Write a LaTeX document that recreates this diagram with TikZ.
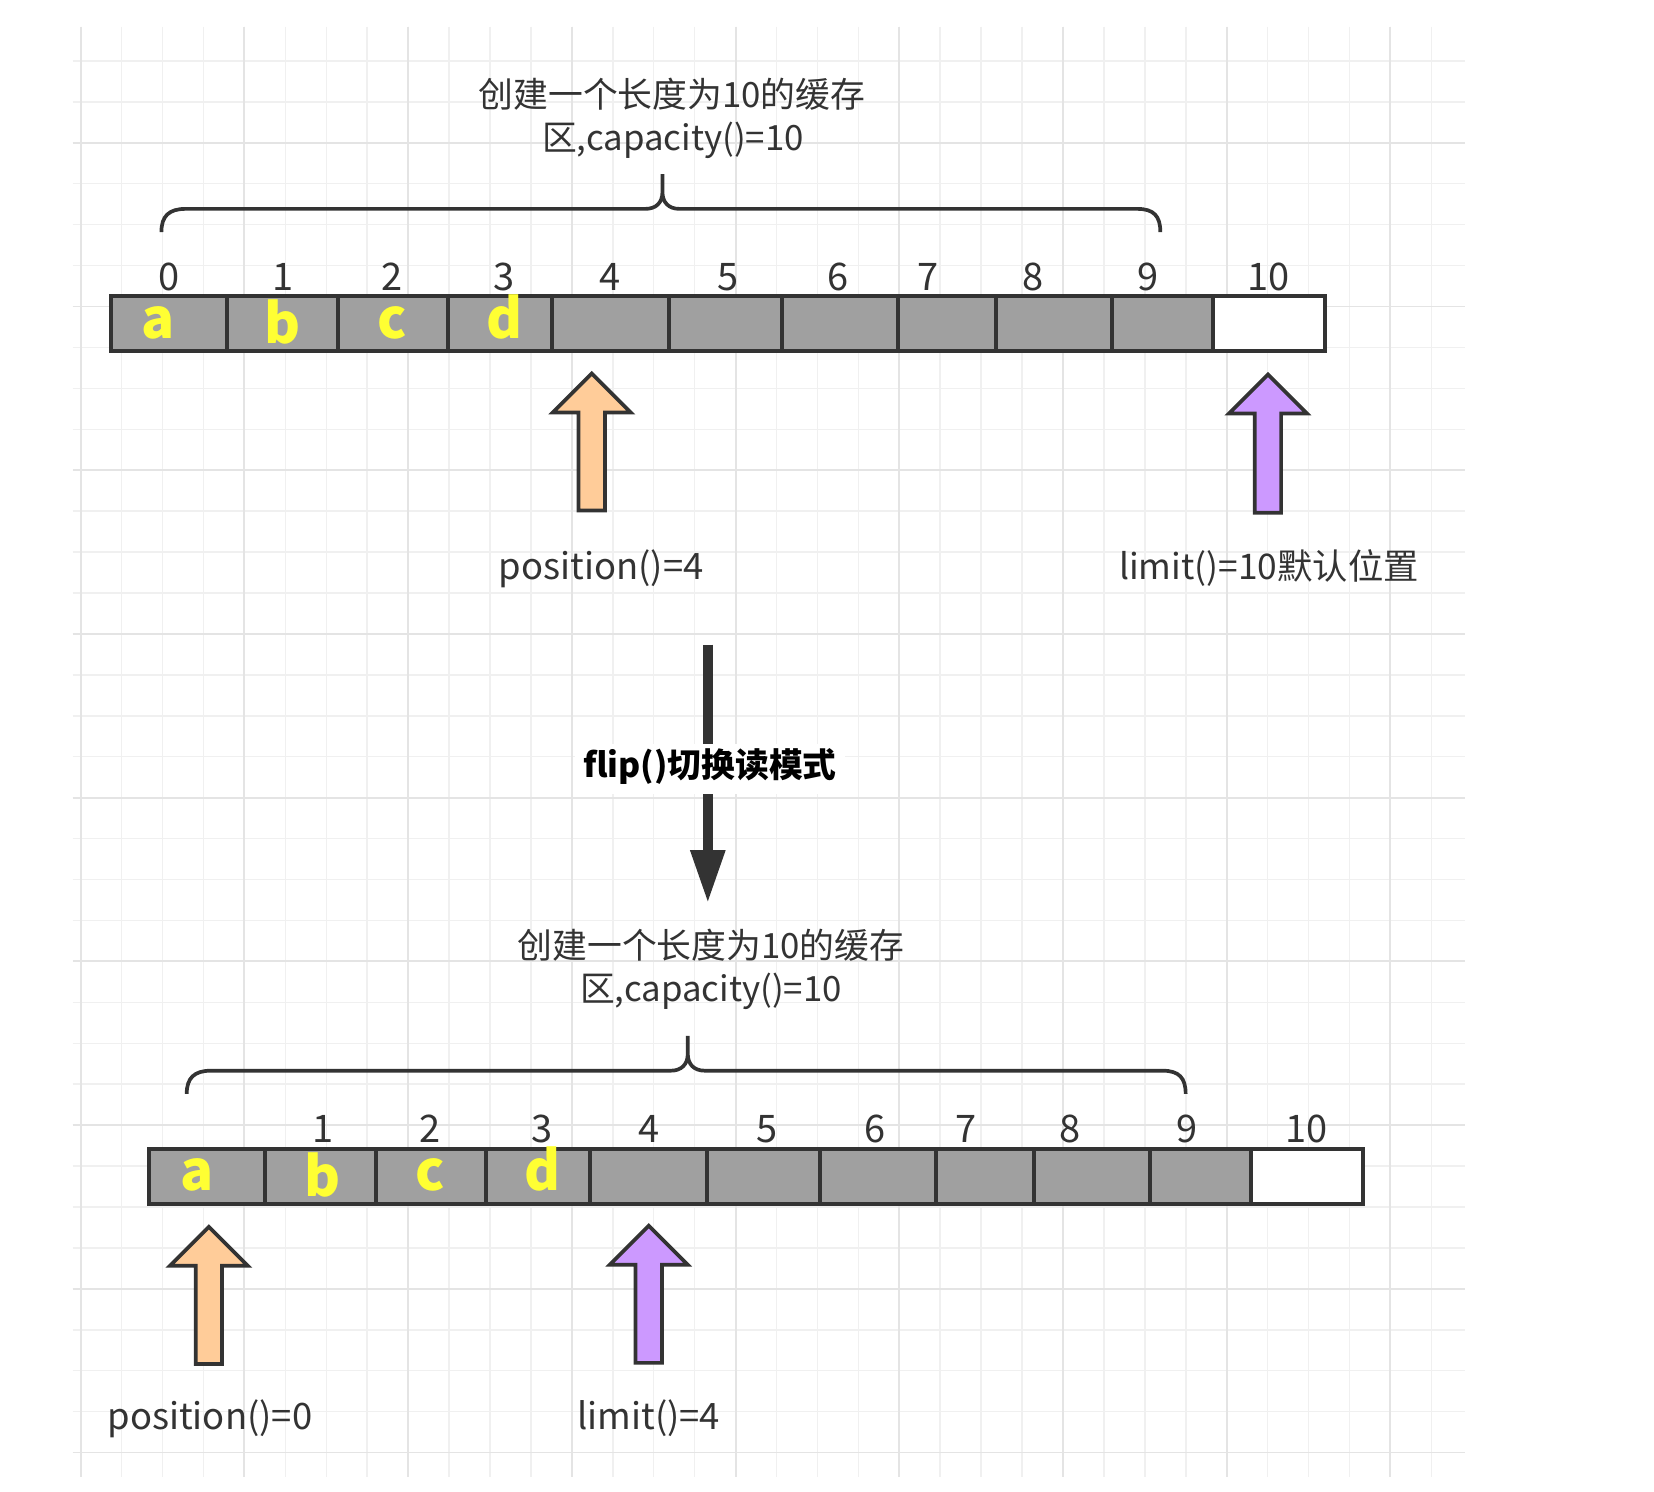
\documentclass[tikz,border=0pt]{standalone}
\usepackage{fontspec}
\setmainfont{Noto Sans CJK SC}
\usetikzlibrary{arrows.meta}
\definecolor{ink}{HTML}{333333}
\definecolor{cellgray}{HTML}{A0A0A0}
\definecolor{letteryellow}{HTML}{FFFF33}
\definecolor{posorange}{HTML}{FFCC99}
\definecolor{limpurple}{HTML}{CC99FF}
\definecolor{gridminor}{HTML}{F0F0F0}
\definecolor{gridmajor}{HTML}{E4E4E4}
\tikzset{
  cellbox/.style={draw=ink, line width=3.8pt, fill=cellgray, minimum height=52pt, inner sep=0pt},
  emptycell/.style={cellbox, fill=white},
  letter/.style={text=letteryellow, font=\bfseries\fontsize{52}{52}\selectfont, anchor=base, inner sep=0pt, text height=28pt, text depth=0pt},
  idx/.style={text=ink, font=\fontsize{36}{40}\selectfont, anchor=base, inner sep=0pt, text height=25pt, text depth=0pt},
  caption/.style={text=ink, font=\fontsize{33}{40}\selectfont, anchor=base, inner sep=0pt},
  ptrlabel/.style={caption, font=\fontsize{34.5}{40}\selectfont},
  brace/.style={draw=ink, line width=3.5pt},
  barrow/.style={draw=ink, line width=3.5pt, line join=miter},
  flipline/.style={draw=ink, line width=9pt, -{Triangle[length=50pt,width=31pt]}},
  fliplabel/.style={fill=white, text=black, font=\bfseries\fontsize{32}{36}\selectfont, text height=24pt, text depth=8pt, inner sep=8pt},
  gridthin/.style={draw=gridminor, line width=1.4pt},
  gridthick/.style={draw=gridmajor, line width=1.8pt}
}
\def\blockup#1#2#3#4{%
  \draw[barrow, fill=#4] (#1,#2) -- ({#1+37},{#2+37}) -- ({#1+12.5},{#2+37}) -- ({#1+12.5},#3)
    -- ({#1-12.5},#3) -- ({#1-12.5},{#2+37}) -- ({#1-37},{#2+37}) -- cycle;}
\def\bracepath{%
  \draw[brace] (153,220) .. controls (153,205) and (160,198) .. (176,198) -- (612,198)
    .. controls (622,198) and (628,192) .. (628,182) -- (628,165) -- (628,182)
    .. controls (628,192) and (634,198) .. (644,198) -- (1078,198)
    .. controls (1094,198) and (1100,205) .. (1100,220);}
\begin{document}
\begin{tikzpicture}[x=1pt,y=-1pt]
\useasboundingbox[fill=white] (0,0) rectangle (1568,1414);
% grid
\foreach \k in {0,...,33} \draw[gridthin] ({76.5+38.8*\k},25.3) -- ({76.5+38.8*\k},1400);
\foreach \k in {0,...,34} \draw[gridthin] (69,{57.8+38.8*\k}) -- (1389,{57.8+38.8*\k});
\foreach \k in {0,4,...,32} \draw[gridthick] ({76.5+38.8*\k},25.3) -- ({76.5+38.8*\k},1400);
\foreach \k in {2,6,...,34} \draw[gridthick] (69,{57.8+38.8*\k}) -- (1389,{57.8+38.8*\k});

% ---------- top buffer ----------
\node[caption] (t1a) at (637,101.5) {创建一个长度为10的缓存};
\node[caption] (t1b) at (638,142.5) {区,capacity()=10};
\bracepath
\foreach \l/\r [count=\i from 0] in {105/215,215/320,320/425,425/523,523/634,634/741,741/851,851/944,944/1054,1054/1150}
  \node[cellbox, minimum width={(\r-\l)*1pt}] (c\i) at ({(\l+\r)/2},307) {};
\node[emptycell, minimum width=106pt] (c10) at (1203,307) {};
\foreach \x/\n in {160/0,268/1,372/2,478/3,578/4,690/5,794/6,880/7,979/8,1088/9,1203/10}
  \node[idx] (n\n) at (\x,275) {\n};
\foreach \x/\t/\b in {150/a/321,268/b/326,372/c/321,478/d/321}
  \node[letter] (l\t) at (\x,\b) {\t};
\blockup{561}{354}{484}{posorange}
\blockup{1202}{355}{486}{limpurple}
\node[ptrlabel] (pos1) at (570,549) {position()=4};
\node[caption, font=\fontsize{33.5}{40}\selectfont] (lim1) at (1203,549) {limit()=10默认位置};

% ---------- flip arrow ----------
\coordinate (fa) at (671,611);
\coordinate (fb) at (671,856);
\draw[flipline] (fa) -- (fb);
\node[fliplabel] (flip) at (673,729) {flip()切换读模式};

% ---------- bottom buffer ----------
\node[caption] (t2a) at (674,908.5) {创建一个长度为10的缓存};
\node[caption] (t2b) at (674,949) {区,capacity()=10};
\begin{scope}[shift={(24,817)}]
\bracepath
\end{scope}
\foreach \l/\r [count=\i from 0] in {141/251,251/356,356/461,461/559,559/670,670/777,777/887,887/980,980/1090,1090/1186}
  \node[cellbox, minimum width={(\r-\l)*1pt}] (d\i) at ({(\l+\r)/2},1115) {};
\node[emptycell, minimum width=106pt] (d10) at (1239,1115) {};
\foreach \x/\n in {306/1,408/2,514/3,615/4,727/5,830/6,916/7,1014/8,1125/9,1239/10}
  \node[idx] (m\n) at (\x,1083) {\n};
\foreach \x/\t/\b in {187/a/1129,306/b/1134,408/c/1129,514/d/1129}
  \node[letter] (k\t) at (\x,\b) {\t};
\blockup{198}{1163}{1293}{posorange}
\blockup{615}{1162}{1292}{limpurple}
\node[ptrlabel] (pos2) at (199,1355) {position()=0};
\node[ptrlabel] (lim2) at (615,1355) {limit()=4};
\end{tikzpicture}
\end{document}
